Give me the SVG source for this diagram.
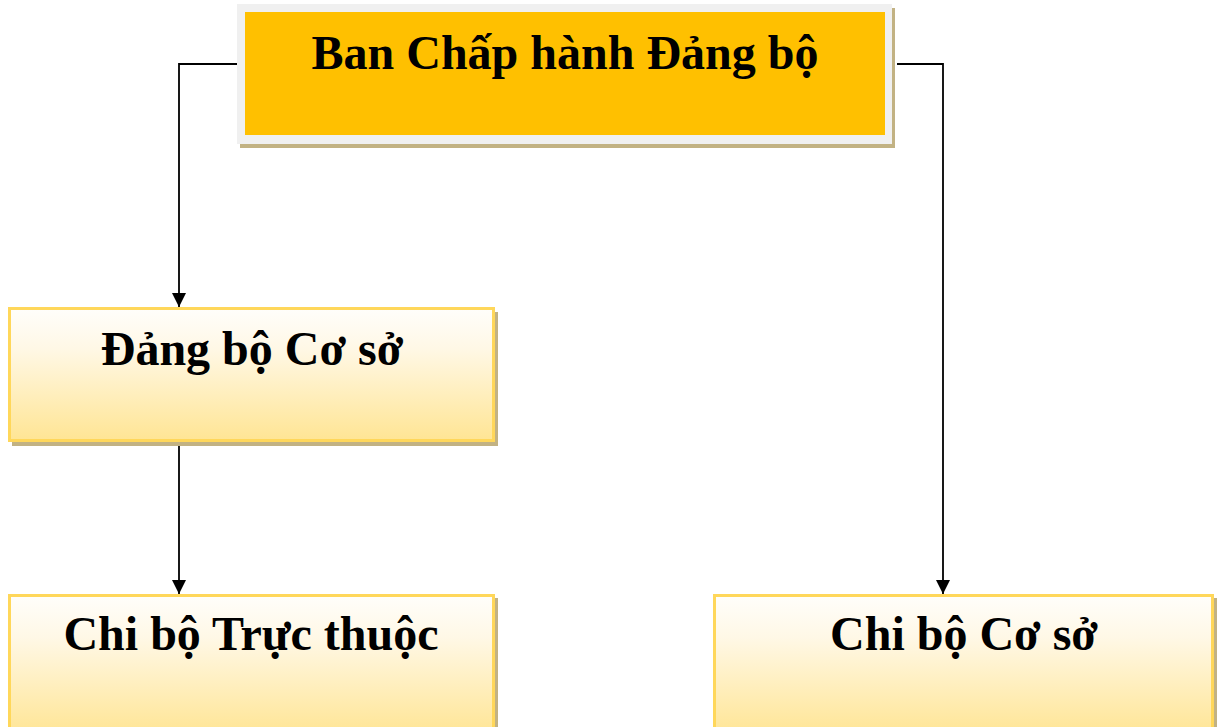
<svg xmlns="http://www.w3.org/2000/svg" width="1223" height="727" viewBox="0 0 1223 727">
  <defs>
    <linearGradient id="paleFill" x1="0" y1="0" x2="0" y2="1">
      <stop offset="0" stop-color="#FFFEFB"/>
      <stop offset="0.3" stop-color="#FFF8E6"/>
      <stop offset="1" stop-color="#FFE594"/>
    </linearGradient>
    <marker id="arrowBig" viewBox="0 0 14 14" refX="14" refY="7" markerWidth="14" markerHeight="14" markerUnits="userSpaceOnUse" orient="auto">
      <path d="M0,0 L14,7 L0,14 Z" fill="#000"/>
    </marker>
  </defs>
  <style>
    .label { font-family: "Liberation Serif", "Times New Roman", serif; font-weight: bold; font-size: 48px; fill: #000; text-anchor: middle; }
    .shadow { fill: #C2B283; }
    .pale { fill: url(#paleFill); stroke: #FFD75A; stroke-width: 3; }
    .link { fill: none; stroke: #000; stroke-width: 1.8; marker-end: url(#arrowBig); }
  </style>
  <rect width="1223" height="727" fill="#fff"/>

  <g id="connectors">
    <path class="link" d="M242,64 H179 V307"/>
    <path class="link" d="M897,64 H943 V594"/>
    <path class="link" d="M179,440 V594"/>
  </g>

  <g id="ban-chap-hanh">
    <rect class="shadow" x="240" y="8" width="655" height="140"/>
    <rect x="237" y="4" width="655" height="140" fill="#F0F0F0"/>
    <rect x="245" y="12" width="640" height="123" fill="#FFC000"/>
    <text class="label" x="565" y="69">Ban Chấp hành Đảng bộ</text>
  </g>

  <g id="dang-bo-co-so">
    <rect class="shadow" x="12" y="312" width="486" height="134"/>
    <rect class="pale" x="9.5" y="308.5" width="484" height="132"/>
    <text class="label" x="252" y="365">Đảng bộ Cơ sở</text>
  </g>

  <g id="chi-bo-truc-thuoc">
    <rect class="shadow" x="12" y="598" width="486" height="140"/>
    <rect class="pale" x="9.5" y="595.5" width="484" height="140"/>
    <text class="label" x="251" y="650">Chi bộ Trực thuộc</text>
  </g>

  <g id="chi-bo-co-so">
    <rect class="shadow" x="717" y="598" width="500" height="140"/>
    <rect class="pale" x="714.5" y="595.5" width="498" height="140"/>
    <text class="label" x="964" y="650">Chi bộ Cơ sở</text>
  </g>
</svg>
